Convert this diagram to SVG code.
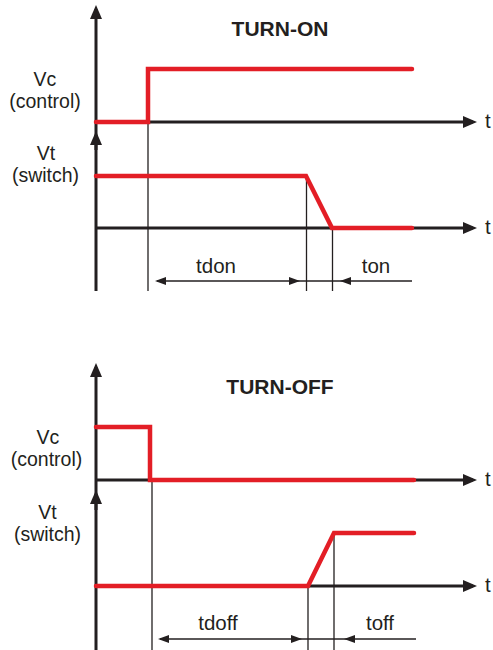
<svg xmlns="http://www.w3.org/2000/svg" width="493" height="650" viewBox="0 0 493 650">
<style>
.ax{stroke:#231f20;stroke-width:3;fill:none}
.thin{stroke:#231f20;stroke-width:1.3;fill:none}
.dim{stroke:#231f20;stroke-width:1.6;fill:none}
.sig{stroke:#e31e26;stroke-width:4.5;fill:none;stroke-linecap:round;stroke-linejoin:miter}
text{font-family:"Liberation Sans",Arial,sans-serif;fill:#231f20;text-anchor:middle}
.lbl{font-size:19.5px}
.dl{font-size:20.5px}
.ttl{font-size:21px;font-weight:bold}
.t{font-size:20.5px;text-anchor:start}
</style>
<defs>
<marker id="ah" markerUnits="userSpaceOnUse" viewBox="0 0 14 12" refX="10" refY="6" markerWidth="14" markerHeight="12" orient="auto-start-reverse">
<path d="M0,0 L14,6 L0,12 z" fill="#231f20"/>
</marker>
<marker id="da" markerUnits="userSpaceOnUse" viewBox="0 0 11 8" refX="9" refY="4" markerWidth="11" markerHeight="8" orient="auto-start-reverse">
<path d="M0,0 L11,4 L0,8 z" fill="#231f20"/>
</marker>
</defs>

<g id="connectors">
<line class="ax" x1="96" y1="291" x2="96" y2="9" marker-end="url(#ah)"/>
<line class="ax" x1="96" y1="150" x2="96" y2="135" marker-end="url(#ah)"/>
<line class="ax" x1="96" y1="122" x2="473" y2="122" marker-end="url(#ah)"/>
<line class="ax" x1="96" y1="228" x2="473" y2="228" marker-end="url(#ah)"/>
<line class="thin" x1="148" y1="122" x2="148" y2="291"/>
<line class="thin" x1="306.5" y1="176" x2="306.5" y2="291"/>
<line class="thin" x1="332.5" y1="228" x2="332.5" y2="291"/>
<line class="dim" x1="157" y1="281" x2="298" y2="281" marker-start="url(#da)" marker-end="url(#da)"/>
<line class="dim" x1="298" y1="281" x2="342" y2="281"/>
<line class="dim" x1="412" y1="281" x2="342" y2="281" marker-end="url(#da)"/>
<line class="ax" x1="96" y1="650" x2="96" y2="367" marker-end="url(#ah)"/>
<line class="ax" x1="96" y1="510" x2="96" y2="494" marker-end="url(#ah)"/>
<line class="ax" x1="96" y1="480" x2="473" y2="480" marker-end="url(#ah)"/>
<line class="ax" x1="96" y1="586" x2="473" y2="586" marker-end="url(#ah)"/>
<line class="thin" x1="152" y1="480" x2="152" y2="650"/>
<line class="thin" x1="308" y1="586" x2="308" y2="650"/>
<line class="thin" x1="334" y1="533" x2="334" y2="650"/>
<line class="dim" x1="160" y1="639" x2="300" y2="639" marker-start="url(#da)" marker-end="url(#da)"/>
<line class="dim" x1="300" y1="639" x2="346" y2="639"/>
<line class="dim" x1="416" y1="639" x2="346" y2="639" marker-end="url(#da)"/>
</g>

<g id="turn-on">
<text class="ttl" x="280" y="36">TURN-ON</text>
<g id="vc-on">
<text class="lbl" x="45" y="85.5">Vc</text>
<text class="lbl" x="45" y="107.5">(control)</text>
<path class="sig" d="M96,122 H148 V69 H412"/>
<text class="t" x="485" y="128">t</text>
</g>
<g id="vt-on">
<text class="lbl" x="46" y="160">Vt</text>
<text class="lbl" x="45.5" y="182">(switch)</text>
<path class="sig" d="M96,176 H306 L332,228 H412"/>
<text class="t" x="485" y="234">t</text>
</g>
<text class="dl" x="216" y="273">tdon</text>
<text class="dl" x="376" y="273">ton</text>
</g>

<g id="turn-off">
<text class="ttl" x="280" y="394">TURN-OFF</text>
<g id="vc-off">
<text class="lbl" x="48" y="444">Vc</text>
<text class="lbl" x="46.5" y="466">(control)</text>
<path class="sig" d="M96,427 H150 V480 H414"/>
<text class="t" x="485" y="486">t</text>
</g>
<g id="vt-off">
<text class="lbl" x="47.5" y="519">Vt</text>
<text class="lbl" x="47.5" y="541">(switch)</text>
<path class="sig" d="M96,586 H308 L334,533 H414"/>
<text class="t" x="485" y="592">t</text>
</g>
<text class="dl" x="218" y="630">tdoff</text>
<text class="dl" x="380" y="630">toff</text>
</g>
</svg>
